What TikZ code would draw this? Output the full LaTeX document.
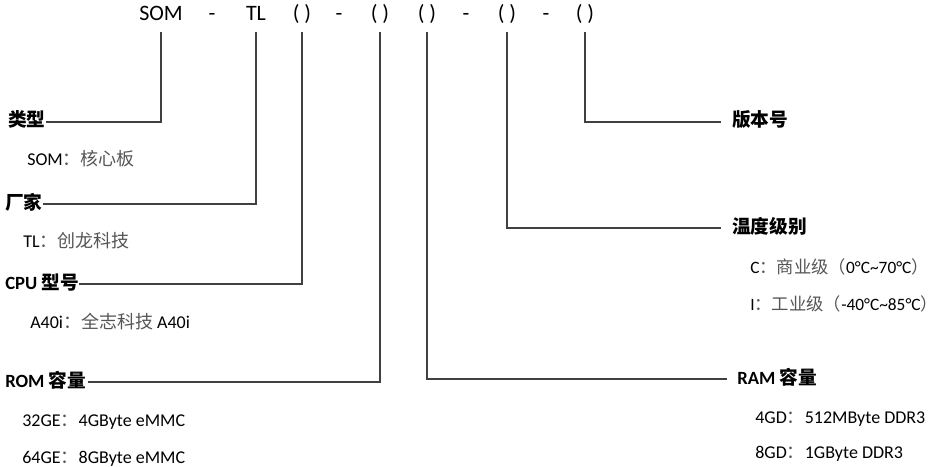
\documentclass[tikz,border=0pt]{standalone}
\usepackage{fontspec}
\usepackage{xcolor}
\usepackage{tikz}
\setmainfont{Carlito}
\newfontfamily\cjk{Noto Sans CJK SC}
\definecolor{linegray}{HTML}{404040}
\definecolor{cngray}{HTML}{555555}
\newcommand{\cn}[1]{{\cjk\color{cngray}#1}}
\newcommand{\cnb}[1]{{\cjk\bfseries #1}}
\tikzstyle{code} = [font=\fontsize{16.5}{20}\selectfont, anchor=base, text depth=0pt, inner xsep=0pt, inner ysep=8.25pt]
\tikzstyle{field} = [font=\fontsize{14}{17}\selectfont\bfseries, inner sep=0pt, text height=0.8em, text depth=0.05em]
\tikzstyle{option} = [font=\fontsize{13.5}{16}\selectfont, anchor=base west, inner sep=0pt, text=black]
\tikzstyle{wire} = [line width=0.9pt, draw=linegray]

\begin{document}
\begin{tikzpicture}[x=0.75pt, y=-0.75pt]
		\useasboundingbox (0,0) rectangle (939,467);
		% part number
		\node (som) [code] at (161,21) {SOM};
		\node (dasha) [code] at (212,21) {-};
		\node (tl) [code] at (256,21) {TL};
		\node (cpupar) [code] at (302,21) {( )};
		\node (dashb) [code] at (339,21) {-};
		\node (rompar) [code] at (380,21) {( )};
		\node (rampar) [code] at (427,21) {( )};
		\node (dashc) [code] at (466,21) {-};
		\node (temppar) [code] at (507,21) {( )};
		\node (dashd) [code] at (546,21) {-};
		\node (verpar) [code] at (585,21) {( )};

		% left fields
		\node (type) [field, anchor=west] at (8,122) {\cnb{类型}};
		\node (typeopt) [option] at (27,165) {SOM\cn{：核心板}};
		\node (vendor) [field, anchor=west] at (5,204) {\cnb{厂家}};
		\node (vendoropt) [option] at (23,247) {TL\cn{：创龙科技}};
		\node (cputype) [field, anchor=west] at (5,284) {CPU \cnb{型号}};
		\node (cpuopt) [option] at (30,328) {A40i\cn{：全志科技} A40i};
		\node (romsize) [field, anchor=west] at (5,382) {ROM \cnb{容量}};
		\node (romopta) [option] at (22,426) {32GE\cn{：}4GByte eMMC};
		\node (romoptb) [option] at (22,463) {64GE\cn{：}8GByte eMMC};

		% right fields
		\node (version) [field, anchor=west] at (732,122) {\cnb{版本号}};
		\node (templevel) [field, anchor=west] at (732,228) {\cnb{温度级别}};
		\node (tempopta) [option, font=\fontsize{13}{16}\selectfont] at (750,273) {C\cn{：商业级（}0°C\textasciitilde70°C\cn{）}};
		\node (tempoptb) [option, font=\fontsize{13}{16}\selectfont] at (750,310) {I\cn{：工业级（}-40°C\textasciitilde85°C\cn{）}};
		\node (ramsize) [field, anchor=west] at (737,379) {RAM \cnb{容量}};
		\node (ramopta) [option] at (755,423) {4GD\cn{：}512MByte DDR3};
		\node (ramoptb) [option] at (755,458) {8GD\cn{：}1GByte DDR3};

		\draw [wire] (som.south) |- (type.east);
		\draw [wire] (tl.south) |- (vendor.east);
		\draw [wire] (cpupar.south) |- (cputype.east);
		\draw [wire] (rompar.south) |- ([xshift=1pt]romsize.east);
		\draw [wire, shorten >=7.5pt] (rampar.south) |- (ramsize.west);
		\draw [wire, shorten >=8.5pt] (temppar.south) |- (templevel.west);
		\draw [wire, shorten >=8.5pt] (verpar.south) |- (version.west);
	\end{tikzpicture}
\end{document}
